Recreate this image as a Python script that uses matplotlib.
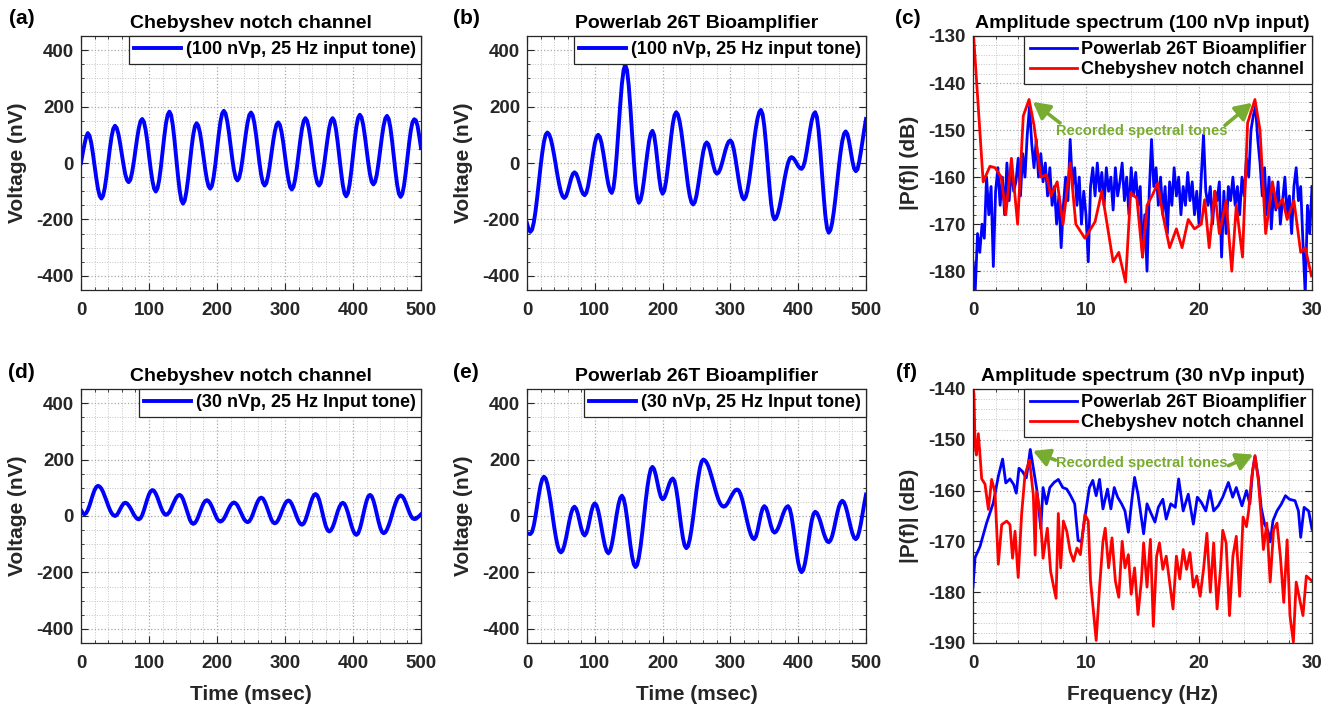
import numpy as np
import matplotlib
matplotlib.use("Agg")
import matplotlib.pyplot as plt
from matplotlib.ticker import MultipleLocator

plt.rcParams['font.family'] = ['Liberation Sans', 'DejaVu Sans']
plt.rcParams['font.weight'] = 'bold'
plt.rcParams['axes.titleweight'] = 'bold'
plt.rcParams['axes.labelweight'] = 'bold'
plt.rcParams['axes.unicode_minus'] = False

# ---------------- data ----------------
time_ms = np.arange(0, 502.5, 2.5)

cheb_100 = [0, 34, 65, 92, 106, 97, 72, 34, -10, -54, -92, -117, -126, -116, -88, -46, 3, 52, 94, 122,
            132, 124, 103, 70, 32, -6, -39, -60, -68, -60, -35, 1, 44, 87, 123, 148, 156, 146, 118, 77,
            28, -22, -63, -91, -101, -90, -60, -14, 41, 95, 141, 171, 182, 170, 134, 81, 19, -43, -96, -132,
            -144, -133, -102, -56, -2, 53, 99, 130, 141, 132, 107, 69, 25, -19, -57, -82, -91, -81, -51, -6,
            47, 100, 145, 175, 185, 176, 149, 109, 62, 14, -26, -53, -62, -53, -27, 13, 59, 105, 144, 170,
            179, 169, 141, 99, 50, 0, -42, -70, -80, -72, -47, -11, 32, 75, 111, 136, 144, 135, 109, 71,
            25, -21, -59, -85, -94, -84, -57, -16, 33, 81, 122, 149, 159, 150, 124, 85, 40, -6, -45, -71,
            -80, -71, -45, -6, 40, 85, 124, 150, 159, 149, 119, 73, 21, -32, -78, -108, -118, -107, -76, -29,
            27, 82, 129, 160, 171, 162, 135, 95, 48, 0, -40, -67, -76, -67, -41, -1, 46, 92, 132, 158,
            167, 156, 125, 78, 24, -31, -78, -109, -120, -110, -80, -35, 18, 70, 115, 145, 155, 151, 131, 94,
            53]

power_100 = [-214, -236, -244, -236, -211, -172, -123, -68, -13, 36, 75, 100, 108, 102, 86, 60, 28, -8, -44, -76,
             -102, -118, -124, -118, -101, -79, -56, -39, -33, -38, -53, -74, -94, -109, -114, -106, -83, -48, -7, 34,
             69, 92, 100, 92, 70, 36, -3, -42, -76, -98, -106, -89, -40, 34, 121, 207, 281, 330, 347, 329,
             276, 196, 103, 10, -70, -123, -141, -131, -104, -62, -14, 35, 77, 104, 114, 99, 58, 3, -53, -94,
             -109, -98, -67, -20, 36, 91, 138, 169, 180, 172, 149, 113, 67, 17, -34, -80, -116, -139, -147, -139,
             -115, -79, -37, 5, 41, 65, 73, 66, 45, 18, -10, -31, -38, -34, -21, -2, 21, 44, 63, 76,
             80, 72, 49, 15, -25, -64, -98, -121, -129, -121, -99, -64, -20, 30, 79, 123, 158, 180, 188, 173,
             131, 68, -6, -80, -143, -185, -200, -195, -179, -155, -124, -90, -55, -25, 0, 16, 21, 18, 10, 0,
             -11, -18, -21, -13, 8, 41, 80, 118, 151, 172, 180, 164, 118, 48, -34, -115, -185, -231, -247, -238,
             -213, -173, -123, -68, -12, 38, 78, 103, 112, 103, 77, 42, 6, -20, -29, -22, 5, 40, 80, 120,
             156]

cheb_30 = [21, 11, 6, 10, 21, 37, 57, 76, 92, 103, 107, 104, 97, 85, 70, 54, 37, 22, 10, 3,
           0, 3, 12, 24, 35, 44, 47, 45, 38, 29, 18, 6, -3, -10, -12, -8, 3, 20, 40, 60,
           77, 88, 92, 89, 79, 65, 48, 31, 17, 7, 4, 7, 14, 26, 40, 53, 65, 72, 75, 71,
           60, 43, 24, 4, -13, -24, -28, -25, -16, -2, 14, 30, 44, 53, 56, 53, 45, 33, 18, 4,
           -9, -17, -20, -17, -10, 1, 14, 27, 38, 45, 48, 45, 38, 26, 13, 0, -12, -19, -22, -19,
           -9, 5, 22, 38, 52, 62, 65, 62, 52, 37, 20, 2, -13, -23, -26, -23, -14, -1, 15, 30,
           43, 52, 55, 52, 42, 28, 12, -4, -18, -28, -31, -27, -15, 3, 24, 44, 62, 74, 78, 73,
           59, 37, 12, -14, -36, -50, -55, -51, -40, -24, -4, 16, 32, 43, 47, 43, 30, 12, -10, -32,
           -50, -63, -67, -62, -46, -23, 4, 31, 54, 70, 75, 70, 55, 33, 7, -19, -41, -56, -61, -58,
           -48, -33, -15, 6, 27, 45, 60, 69, 73, 70, 61, 47, 31, 15, 1, -8, -11, -10, -5, 0,
           6]

power_30 = [-61, -63, -64, -56, -34, -1, 38, 76, 109, 131, 139, 133, 114, 84, 47, 5, -37, -74, -104, -123,
            -129, -123, -105, -79, -48, -17, 9, 27, 33, 26, 8, -18, -44, -62, -69, -61, -41, -12, 17, 37,
            45, 38, 19, -10, -44, -77, -106, -125, -132, -124, -102, -69, -30, 9, 42, 64, 72, 62, 35, -6,
            -55, -103, -144, -171, -181, -173, -147, -108, -59, -4, 52, 101, 140, 166, 174, 166, 145, 117, 88, 67,
            59, 64, 78, 96, 115, 128, 133, 124, 97, 57, 10, -38, -78, -105, -114, -107, -84, -49, -6, 43,
            92, 135, 170, 193, 200, 197, 189, 176, 158, 138, 117, 95, 75, 57, 44, 36, 33, 35, 42, 52,
            64, 75, 85, 92, 94, 90, 77, 58, 33, 6, -21, -46, -65, -78, -82, -74, -53, -24, 6, 27,
            35, 29, 12, -12, -36, -53, -59, -55, -45, -30, -12, 6, 21, 31, 35, 26, 1, -37, -82, -127,
            -165, -190, -199, -191, -168, -133, -92, -51, -16, 7, 15, 11, -1, -18, -39, -60, -77, -89, -93, -87,
            -72, -48, -20, 9, 33, 48, 54, 49, 34, 12, -14, -40, -62, -77, -82, -75, -55, -26, 10, 44,
            76]

# spectrum, 100 nVp input
freq_blue_100 = np.linspace(0, 30, 151)
blue_100 = [-178, -184, -172, -176, -170, -173, -160, -168, -162, -179,
            -163, -158, -166, -160, -168, -157, -165, -158, -163, -161,
            -156, -164, -155, -160, -151, -145, -153, -158, -152, -160,
            -155, -161, -157, -164, -158, -166, -162, -170, -164, -175,
            -166, -160, -165, -152, -162, -158, -166, -160, -170, -163,
            -168, -178, -162, -158, -164, -157, -163, -159, -166, -158,
            -163, -160, -167, -158, -164, -161, -157, -165, -160, -168,
            -158, -164, -159, -166, -162, -177, -168, -180, -163, -152,
            -162, -158, -166, -160, -168, -162, -172, -161, -166, -158,
            -164, -160, -168, -162, -166, -159, -165, -161, -168, -163,
            -170, -160, -151, -163, -166, -162, -170, -163, -165, -161,
            -177, -163, -172, -162, -165, -160, -166, -162, -168, -160,
            -164, -156, -160, -150, -147, -145, -152, -157, -164, -158,
            -168, -160, -171, -163, -167, -161, -170, -165, -160, -168,
            -164, -172, -162, -158, -165, -162, -174, -185, -166, -172,
            -162]

freq_red_100 = [0, 0.9, 1.5, 1.95, 2.5, 2.9, 3.4, 3.95, 4.45, 4.96, 5.4, 6.0, 6.5, 6.9, 7.45, 7.97,
                8.6, 9.1, 9.9, 10.8, 11.4, 12.4, 12.9, 13.5, 13.95, 14.5, 15.0, 15.4, 15.9, 16.35,
                16.8, 17.4, 18.0, 18.5, 19.05, 19.6, 20.2, 20.5, 20.9, 21.4, 21.8, 22.4, 22.9, 23.3,
                23.85, 24.3, 24.95, 25.4, 25.9, 26.5, 26.9, 27.4, 27.8, 28.4, 29.0, 29.4, 29.95]
red_100 = [-128, -161, -157.7, -158, -160, -168, -156, -170, -147, -143.5, -149, -160, -159.5, -164, -161, -170,
           -157, -170, -173, -169.5, -163, -178, -176, -182.3, -163.3, -164.5, -177, -166, -163.7, -161.3,
           -168, -175, -171, -175, -169, -171, -170, -164.8, -175, -163, -172, -165, -180, -166,
           -177, -148.5, -143.5, -150, -172, -161, -166.5, -164.7, -169, -165, -176, -175, -181]

# spectrum, 30 nVp input
freq_blue_30 = [0, 0.18, 0.62, 1.2, 1.8, 2.24, 2.62, 2.9, 3.27, 3.6, 3.83, 4.07, 4.36, 4.72, 5.07, 5.37,
                5.66, 6.0, 6.2, 6.5, 6.8, 7.17, 7.55, 7.94, 8.3, 8.64, 9.0, 9.3, 9.6, 9.9, 10.3, 10.6,
                10.9, 11.2, 11.5, 11.9, 12.2, 12.5, 12.8, 13.15, 13.45, 13.75, 14.05, 14.3, 14.6, 15.1,
                15.4, 15.72, 16.1, 16.4, 16.8, 17.1, 17.5, 17.9, 18.2, 18.6, 19.05, 19.5, 19.85, 20.2,
                20.6, 20.97, 21.3, 21.7, 22.1, 22.6, 22.98, 23.3, 23.8, 24.2, 24.5, 24.75, 24.95, 25.25,
                25.5, 25.8, 26.1, 26.3, 26.55, 26.9, 27.3, 27.65, 28.0, 28.5, 28.8, 29.0, 29.3, 29.7, 30.0]
blue_30 = [-179, -173.2, -171, -166.4, -162.4, -157.2, -153.8, -158.5, -157.7, -158.8, -160.5, -155.6, -156.2,
           -157.5, -151.9, -156, -160, -167.5, -159.4, -162.6, -159.4, -158.4, -157.8, -159.4, -159.7, -161,
           -162.6, -169.8, -170.1, -165.3, -159.4, -158, -161, -157.8, -163.6, -159.7, -163.6, -159.4, -161.3,
           -162.6, -164, -168.2, -162, -157.4, -160.7, -168.5, -162.6, -164.3, -166.2, -163.3, -161.7, -165.6,
           -162.6, -163.3, -157.7, -164, -160.7, -166.6, -161.3, -162.3, -164, -160, -164, -163, -161.3,
           -158.4, -161.3, -159.4, -163, -160, -162.6, -156, -153.3, -157.4, -163.3, -166.6, -167.9, -170.1,
           -165.9, -164, -162.6, -161, -161.7, -162, -164, -169.2, -163.3, -164, -167.6]

freq_red_30 = [0, 0.09, 0.18, 0.3, 0.47, 0.62, 0.77, 1.06, 1.36, 1.65, 1.95, 2.24, 2.54, 2.98, 3.27, 3.5,
               3.72, 4.0, 4.3, 4.6, 5.0, 5.34, 5.5, 5.63, 5.93, 6.2, 6.58, 6.87, 7.1, 7.35, 7.55, 7.76,
               8.0, 8.3, 8.6, 8.9, 9.2, 9.5, 9.9, 10.2, 10.4, 10.65, 10.9, 11.2, 11.5, 11.7, 12.0, 12.3,
               12.6, 12.9, 13.2, 13.45, 13.75, 14.0, 14.3, 14.6, 14.9, 15.1, 15.4, 15.7, 15.96, 16.25,
               16.5, 16.8, 17.1, 17.4, 17.7, 18.0, 18.3, 18.6, 18.9, 19.2, 19.5, 19.8, 20.1, 20.4, 20.7,
               21.0, 21.3, 21.6, 21.9, 22.1, 22.4, 22.7, 23.0, 23.3, 23.6, 23.9, 24.2, 24.4, 24.66, 24.96,
               25.25, 25.46, 25.7, 26.0, 26.3, 26.6, 26.9, 27.2, 27.5, 27.8, 28.05, 28.35, 28.6, 28.9,
               29.2, 29.5, 29.8, 30.0]
red_30 = [-139, -141.2, -151, -153, -148.8, -153, -157.7, -158.7, -163.7, -157.8, -160.4, -174.5, -166.7, -166,
          -166.7, -173.3, -168, -177.1, -164.7, -156.9, -154, -160.9, -172.7, -160.2, -164.1, -173.3, -167.4,
          -175.9, -178.5, -181.2, -164.5, -175.2, -166, -168, -172, -173.9, -171.3, -172.6, -164.7, -166,
          -177.8, -183.6, -189.5, -179, -170, -167.4, -175.2, -169.3, -177.8, -181, -170, -175.2, -172.6,
          -180.4, -175.2, -184.4, -177.8, -170.3, -179, -169.6, -186.7, -172.9, -170.3, -175.5, -172.9, -178,
          -183.3, -172.9, -177.4, -171.6, -175.5, -172.2, -179, -176.8, -180.8, -175.5, -168.4, -180, -170.3,
          -183.3, -175.5, -167.8, -170.3, -184.6, -172.9, -169, -180.8, -165.2, -167.1, -163.9, -157.4, -153.1,
          -158, -163.9, -171.6, -166.4, -178, -167.7, -166.4, -172.9, -182, -169.7, -184.6, -189.8, -178,
          -181.3, -184.6, -176.8, -177.4, -177.8]

titles = ["Chebyshev notch channel", "Powerlab 26T Bioamplifier", "Amplitude spectrum (100 nVp input)",
          "Chebyshev notch channel", "Powerlab 26T Bioamplifier", "Amplitude spectrum (30 nVp input)"]
panel_labels = ["(a)", "(b)", "(c)", "(d)", "(e)", "(f)"]
legend_time = ["(100 nVp, 25 Hz input tone)", "(100 nVp, 25 Hz input tone)",
               "(30 nVp, 25 Hz Input tone)", "(30 nVp, 25 Hz Input tone)"]
legend_spec = ["Powerlab 26T Bioamplifier", "Chebyshev notch channel"]
annot_text = "Recorded spectral tones"

# ---------------- style ----------------
W, H = 1340, 707
fig = plt.figure(figsize=(W / 100, H / 100), dpi=100)
TXT = '#262626'
GREEN = '#77AC30'

def px_axes(left, right, top, bottom):
    return fig.add_axes([left / W, 1 - bottom / H, (right - left) / W, (bottom - top) / H])

def style(ax, xmaj, xmin, ymaj, ymin):
    ax.xaxis.set_major_locator(MultipleLocator(xmaj))
    ax.xaxis.set_minor_locator(MultipleLocator(xmin))
    ax.yaxis.set_major_locator(MultipleLocator(ymaj))
    ax.yaxis.set_minor_locator(MultipleLocator(ymin))
    ax.grid(True, which='major', linestyle=':', color='#a8a8a8', lw=0.9)
    ax.grid(True, which='minor', linestyle=':', color='#c4c4c4', lw=0.7)
    ax.set_axisbelow(True)
    ax.tick_params(which='both', direction='in', top=True, right=True, colors=TXT, labelcolor=TXT)
    ax.tick_params(which='major', length=5, width=0.8, labelsize=13.5)
    ax.tick_params(which='minor', length=2.5, width=0.6)
    ax.tick_params(axis='x', pad=9)
    ax.tick_params(axis='y', pad=5)
    for s in ax.spines.values():
        s.set_color(TXT)
        s.set_linewidth(0.9)
    for lab in ax.get_xticklabels() + ax.get_yticklabels():
        lab.set_fontweight('bold')

def add_legend(ax):
    leg = ax.legend(loc='upper right', borderaxespad=0, fontsize=13, fancybox=False,
                    edgecolor=TXT, framealpha=1, handlelength=2.6, handletextpad=0.25,
                    borderpad=0.3, labelspacing=0.15)
    leg.get_frame().set_linewidth(0.9)
    for t in leg.get_texts():
        t.set_fontweight('bold')
        t.set_color('black')
    return leg

cols = [(81, 421), (527, 866), (973, 1312)]
rows = [(36, 290), (389, 643)]

time_series = [cheb_100, power_100, cheb_30, power_30]
time_pos = [(0, 0), (0, 1), (1, 0), (1, 1)]

axes = {}
for k, (r, c) in enumerate(time_pos):
    ax = px_axes(cols[c][0], cols[c][1], rows[r][0], rows[r][1])
    axes[(r, c)] = ax
    ax.plot(time_ms, time_series[k], color='#0000FF', lw=2.8, label=legend_time[k],
            solid_joinstyle='round')
    ax.set_xlim(0, 500)
    ax.set_ylim(-450, 450)
    style(ax, 100, 20, 200, 50)
    ax.set_ylabel("Voltage (nV)", fontsize=15, color=TXT)
    ax.yaxis.set_label_coords(-0.16, 0.5)
    if r == 1:
        ax.set_xlabel("Time (msec)", fontsize=15, color=TXT)
        ax.xaxis.set_label_coords(0.5, -0.165)
    add_legend(ax)

spec = [
    (freq_blue_100, blue_100, freq_red_100, red_100, (-184, -130), 0),
    (freq_blue_30, blue_30, freq_red_30, red_30, (-190, -140), 1),
]
annots = [
    ((14.9, -150.3), [((7.7, -148.5), (5.3, -144.0)), ((22.3, -149.0), (24.7, -144.2))]),
    ((14.9, -154.6), [((7.3, -154.0), (5.3, -152.2)), ((22.6, -155.1), (24.8, -152.9))]),
]
for (fb, vb, fr, vr, ylim, r), (tpos, arrows) in zip(spec, annots):
    ax = px_axes(cols[2][0], cols[2][1], rows[r][0], rows[r][1])
    axes[(r, 2)] = ax
    ax.plot(fb, vb, color='#0000FF', lw=2.0, label=legend_spec[0])
    ax.plot(fr, vr, color='#FF0000', lw=2.0, label=legend_spec[1])
    ax.set_xlim(0, 30)
    ax.set_ylim(*ylim)
    style(ax, 10, 2, 10, 2)
    ax.set_ylabel("|P(f)| (dB)", fontsize=15, color=TXT)
    ax.yaxis.set_label_coords(-0.16, 0.5)
    if r == 1:
        ax.set_xlabel("Frequency (Hz)", fontsize=15, color=TXT)
        ax.xaxis.set_label_coords(0.5, -0.165)
    add_legend(ax)
    ax.text(tpos[0], tpos[1], annot_text, color=GREEN, fontsize=10.5, fontweight='bold',
            ha='center', va='center', zorder=6)
    for (tail, head) in arrows:
        ax.annotate('', xy=head, xytext=tail,
                    arrowprops=dict(arrowstyle='-|>,head_length=0.55,head_width=0.3',
                                    color=GREEN, lw=2.6, mutation_scale=18,
                                    shrinkA=0, shrinkB=0), zorder=6)

for (r, c), ax in axes.items():
    ax.set_title(titles[r * 3 + c], fontsize=14, color='black', pad=5.5)

label_pos = [(9, 18), (453, 18), (895, 18), (8, 372), (453, 372), (896, 372)]
for lab, (x, y) in zip(panel_labels, label_pos):
    fig.text(x / W, 1 - y / H, lab, fontsize=15, fontweight='bold', color='black',
             ha='left', va='center')

fig.savefig("out.png", dpi=100, facecolor='white')
